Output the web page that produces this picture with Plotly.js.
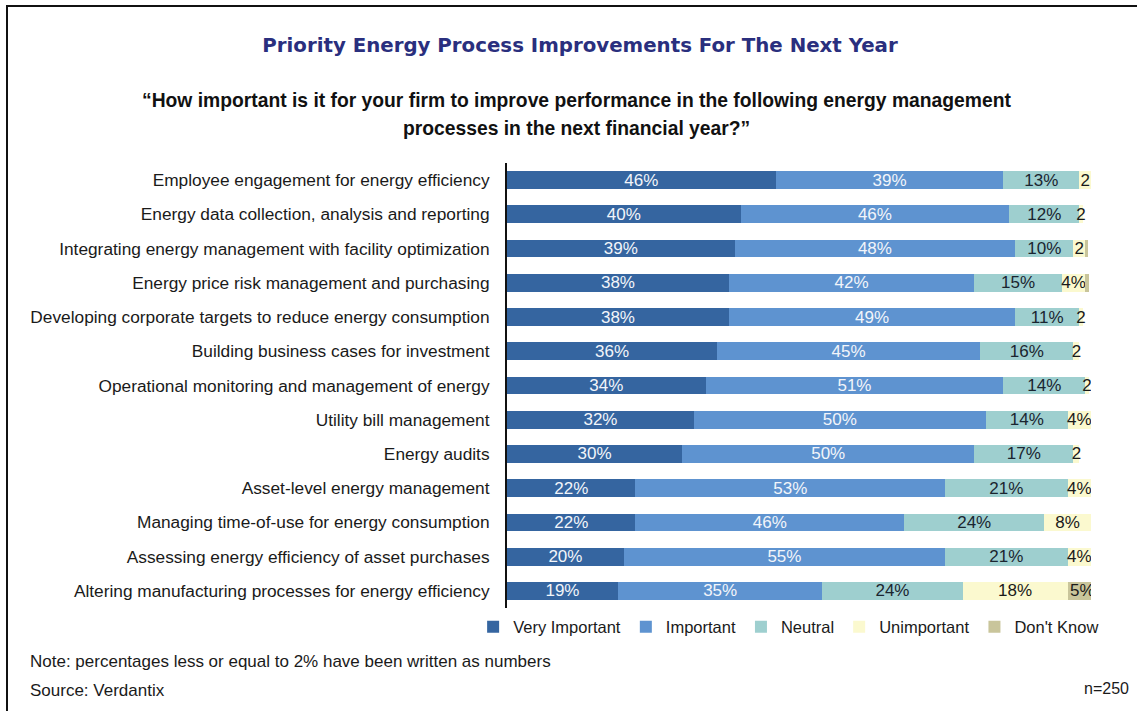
<!DOCTYPE html>
<html>
<head>
<meta charset="utf-8">
<script src="https://cdn.plot.ly/plotly-3.0.1.min.js"></script>
<style>
html,body{margin:0;padding:0;background:#fff;}
#chart{position:absolute;left:0;top:0;width:1137px;height:711px;}
#frame{position:absolute;left:6px;top:5px;width:1131px;height:706px;border-left:2px solid #111;border-top:2px solid #111;pointer-events:none;}
</style>
</head>
<body>
<div id="chart"></div>
<div id="frame"></div>
<script>
var categories = [
  "Employee engagement for energy efficiency",
  "Energy data collection, analysis and reporting",
  "Integrating energy management with facility optimization",
  "Energy price risk management and purchasing",
  "Developing corporate targets to reduce energy consumption",
  "Building business cases for investment",
  "Operational monitoring and management of energy",
  "Utility bill management",
  "Energy audits",
  "Asset-level energy management",
  "Managing time-of-use for energy consumption",
  "Assessing energy efficiency of asset purchases",
  "Altering manufacturing processes for energy efficiency"
];
var veryImportant = [46, 40, 39, 38, 38, 36, 34, 32, 30, 22, 22, 20, 19];
var important     = [39, 46, 48, 42, 49, 45, 51, 50, 50, 53, 46, 55, 35];
var neutral       = [13, 12, 10, 15, 11, 16, 14, 14, 17, 21, 24, 21, 24];
var unimportant   = [2, 0.6, 2, 4, 0.6, 1, 0.6, 4, 1, 4, 8, 4, 18];
var dontKnow      = [0.5, 0, 0.5, 0.6, 0, 0, 0, 0, 0, 0, 0.5, 0, 5];
var unimportantLabels = ["2", "2", "2", "4%", "2", "2", "2", "4%", "2", "4%", "8%", "4%", "18%"];
var dontKnowLabels    = ["", "", "", "", "", "", "", "", "", "", "", "", "5%"];
var seriesNames = ["Very Important", "Important", "Neutral", "Unimportant", "Don't Know"];

function pct(arr){ return arr.map(function(v){ return v + "%"; }); }

var baseFont = "Liberation Sans, Arial, sans-serif";
function barTrace(name, vals, labels, color, txtColor){
  return {
    type: "bar", orientation: "h", name: name,
    y: categories, x: vals, text: labels,
    textposition: "inside", insidetextanchor: "middle", constraintext: "none",
    textangle: 0,
    insidetextfont: {family: baseFont, size: 17, color: txtColor},
    marker: {color: color, line: {width: 0}},
    hoverinfo: "skip"
  };
}

var data = [
  barTrace(seriesNames[0], veryImportant, pct(veryImportant), "#3565a0", "#f2f5fa"),
  barTrace(seriesNames[1], important, pct(important), "#5e93d0", "#f2f5fa"),
  barTrace(seriesNames[2], neutral, pct(neutral), "#9ecfcf", "#1a2530"),
  barTrace(seriesNames[3], unimportant, unimportantLabels, "#fbf9cf", "#1a1a1a"),
  barTrace(seriesNames[4], dontKnow, dontKnowLabels, "#c9c59b", "#1a1a1a")
];

var layout = {
  width: 1137, height: 711,
  margin: {l: 507, r: 46, t: 163, b: 103, pad: 0},
  paper_bgcolor: "#ffffff", plot_bgcolor: "#ffffff",
  barmode: "stack", bargap: 0.48,
  showlegend: true,
  font: {family: baseFont, size: 17, color: "#1a1a1a"},
  title: {
    text: "Priority Energy Process Improvements For The Next Year",
    x: 580/1137, y: 1 - 45/711, xref: "container", yref: "container",
    xanchor: "center", yanchor: "middle",
    font: {family: "DejaVu Sans, sans-serif", size: 19.8, color: "#2a2f7e", weight: "bold"}
  },
  xaxis: {
    range: [0, 100], visible: false, fixedrange: true
  },
  yaxis: {
    autorange: "reversed", showgrid: false, zeroline: false,
    showline: true, linecolor: "#111", linewidth: 2,
    ticks: "", ticklabelstandoff: 12,
    tickfont: {family: baseFont, size: 17.3, color: "#1a1a1a"},
    fixedrange: true
  },
  legend: {
    orientation: "h", x: -0.058, y: -0.043, xanchor: "left", yanchor: "middle",
    font: {family: baseFont, size: 16.5, color: "#1a1a1a"},
    itemwidth: 30, traceorder: "normal", bgcolor: "rgba(0,0,0,0)"
  },
  annotations: [
    {text: "<b>\u201cHow important is it for your firm to improve performance in the following energy management</b>",
     xref: "paper", yref: "paper", x: (576-507)/584, y: (608-100)/445, xanchor: "center", yanchor: "middle",
     showarrow: false, font: {family: baseFont, size: 19.3, color: "#111"}},
    {text: "<b>processes in the next financial year?\u201d</b>",
     xref: "paper", yref: "paper", x: (576-507)/584, y: (608-128)/445, xanchor: "center", yanchor: "middle",
     showarrow: false, font: {family: baseFont, size: 19.3, color: "#111"}},
    {text: "Note: percentages less or equal to 2% have been written as numbers",
     xref: "paper", yref: "paper", x: (28-507)/584, y: (608-661)/445, xanchor: "left", yanchor: "middle",
     showarrow: false, font: {family: baseFont, size: 17, color: "#1a1a1a"}},
    {text: "Source: Verdantix",
     xref: "paper", yref: "paper", x: (28-507)/584, y: (608-690)/445, xanchor: "left", yanchor: "middle",
     showarrow: false, font: {family: baseFont, size: 17, color: "#1a1a1a"}},
    {text: "n=250",
     xref: "paper", yref: "paper", x: (1131-507)/584, y: (608-688)/445, xanchor: "right", yanchor: "middle",
     showarrow: false, font: {family: baseFont, size: 16, color: "#1a1a1a"}}
  ]
};

Plotly.newPlot("chart", data, layout, {displayModeBar: false, staticPlot: true});
</script>
</body>
</html>
